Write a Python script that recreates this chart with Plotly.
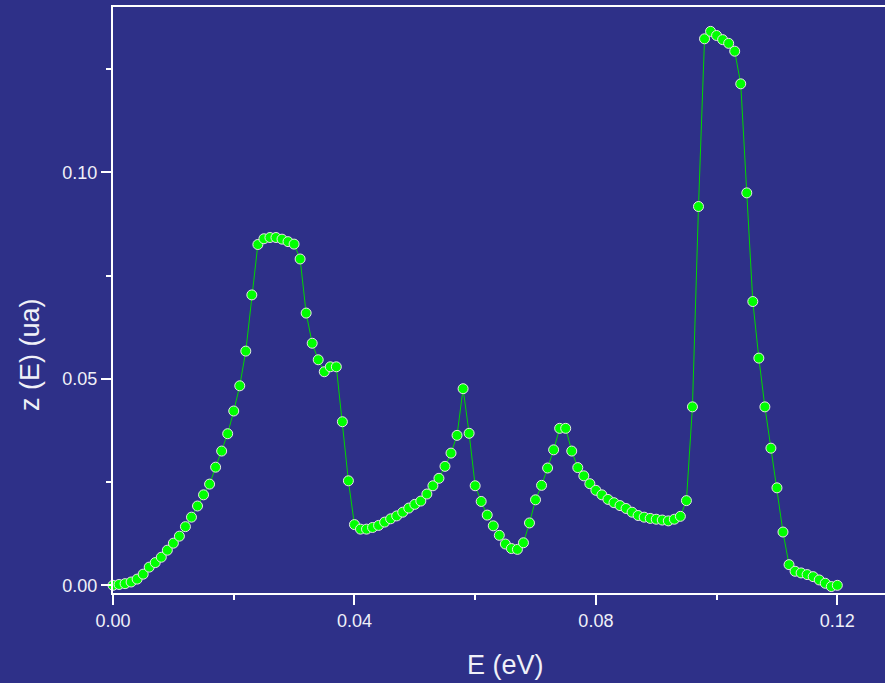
import plotly.graph_objects as go

# Energy grid (eV), 1 meV step
energy = [round(0.001 * i, 3) for i in range(121)]

# z(E) values
z_values = [
    0.0000, 0.0002, 0.0004, 0.0008, 0.0015, 0.0027, 0.0044, 0.0055, 0.0068, 0.0085,
    0.0102, 0.0119, 0.0142, 0.0165, 0.0192, 0.0219, 0.0245, 0.0286, 0.0325, 0.0367,
    0.0422, 0.0483, 0.0567, 0.0703, 0.0825, 0.0839, 0.0842, 0.0842, 0.0838, 0.0832,
    0.0826, 0.0790, 0.0659, 0.0586, 0.0546, 0.0517, 0.0529, 0.0529, 0.0396, 0.0253,
    0.0147, 0.0136, 0.0136, 0.0140, 0.0145, 0.0153, 0.0161, 0.0168, 0.0177, 0.0187,
    0.0196, 0.0204, 0.0221, 0.0241, 0.0259, 0.0288, 0.0320, 0.0363, 0.0476, 0.0368,
    0.0241, 0.0203, 0.0170, 0.0144, 0.0121, 0.0100, 0.0089, 0.0087, 0.0103, 0.0151,
    0.0207, 0.0242, 0.0284, 0.0328, 0.0380, 0.0380, 0.0325, 0.0285, 0.0265, 0.0246,
    0.0230, 0.0219, 0.0208, 0.0200, 0.0193, 0.0186, 0.0177, 0.0169, 0.0165, 0.0162,
    0.0160, 0.0158, 0.0156, 0.0160, 0.0167, 0.0205, 0.0432, 0.0917, 0.1323, 0.1341,
    0.1331, 0.1321, 0.1312, 0.1293, 0.1214, 0.0950, 0.0687, 0.0550, 0.0432, 0.0332,
    0.0236, 0.0129, 0.0050, 0.0034, 0.0030, 0.0026, 0.0021, 0.0013, 0.0005, -0.0003,
    0.0000,
]

x_title = "E (eV)"
y_title = "z (E) (ua)"

BG = "#2e3088"
FONT = "Liberation Sans, Arial, sans-serif"

fig = go.Figure()
fig.add_trace(go.Scatter(
    x=energy, y=z_values, mode="lines+markers",
    line=dict(color="#00d800", width=1),
    marker=dict(size=10, color="#00ff00", line=dict(color="#e6e6e6", width=1)),
    cliponaxis=False, showlegend=False,
))

axis_common = dict(
    showgrid=False, zeroline=False, showline=True, linecolor="white", linewidth=2,
    ticks="outside", ticklen=10, tickwidth=2, tickcolor="white",
    tickfont=dict(family=FONT, size=18, color="#f0f0f8"),
    tickformat=".2f",
)

fig.update_xaxes(
    range=[0, 0.1279], dtick=0.04, tick0=0, mirror=True,
    minor=dict(dtick=0.02, ticks="outside", ticklen=5, tickwidth=2, tickcolor="white"),
    **axis_common,
)
fig.update_yaxes(
    range=[-0.00186, 0.14], dtick=0.05, tick0=0,
    minor=dict(dtick=0.025, ticks="outside", ticklen=5, tickwidth=2, tickcolor="white"),
    **axis_common,
)

fig.update_layout(
    width=885, height=683,
    margin=dict(l=113, r=0, t=7, b=90),
    paper_bgcolor=BG, plot_bgcolor=BG,
    font=dict(family=FONT, color="white"),
    annotations=[
        dict(text=x_title, xref="paper", yref="paper", x=0.509, y=-0.123,
             showarrow=False, font=dict(family=FONT, size=27, color="#f0f0f8"),
             xanchor="center", yanchor="middle"),
        dict(text=y_title, xref="paper", yref="paper", x=-0.1075, y=0.406,
             showarrow=False, textangle=-90, font=dict(family=FONT, size=27, color="#f0f0f8"),
             xanchor="center", yanchor="middle"),
    ],
)

fig.write_html(
    "out.html",
    config={"displayModeBar": False},
    post_script="document.body.style.margin='0px';document.body.style.background='" + BG + "';",
)
